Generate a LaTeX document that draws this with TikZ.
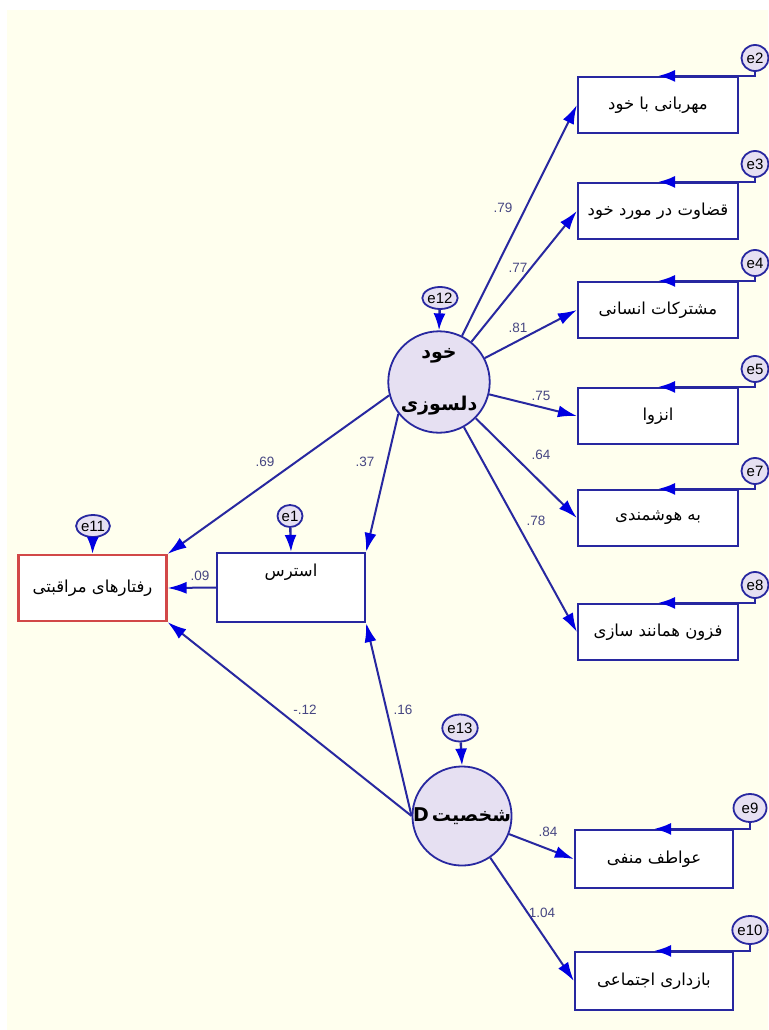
\documentclass[tikz,border=0pt]{standalone}
\usepackage{fontspec}
\setmainfont{Liberation Sans}
\newfontfamily\arabicfont[Script=Arabic]{DejaVu Sans}
\TeXXeTstate=1
\usetikzlibrary{arrows.meta,shapes.geometric}

\definecolor{paper}{RGB}{255,255,238}
\definecolor{linkblue}{RGB}{40,40,160}
\definecolor{tipblue}{RGB}{0,0,225}
\definecolor{bubble}{RGB}{230,224,242}
\definecolor{coefgray}{RGB}{70,70,130}
\definecolor{carered}{RGB}{210,72,72}

\begin{document}
\begin{tikzpicture}[x=1pt,y=-1pt,
    obsbox/.style={draw=linkblue,line width=2.2pt,fill=white,minimum width=160pt,minimum height=56pt,
      font=\arabicfont\fontsize{16.5}{18}\selectfont},
    latent/.style={circle,draw=linkblue,line width=1.8pt,fill=bubble,minimum size=98pt,inner sep=0pt,
      font=\arabicfont\bfseries\fontsize{19}{52}\selectfont},
    errnode/.style={ellipse,draw=linkblue,line width=1.8pt,fill=bubble,minimum width=27pt,minimum height=26pt,
      inner sep=0pt,font=\fontsize{15}{15}\selectfont},
    link/.style={draw=linkblue,line width=2pt,-{Latex[length=19pt,width=12pt,color=tipblue]}},
    errlink/.style={draw=linkblue,line width=2.4pt,-{Latex[length=17pt,width=12pt,color=tipblue]}},
    coef/.style={text=coefgray,font=\fontsize{13.5}{13.5}\selectfont}]

    % draw background
    \useasboundingbox (0,0) rectangle (768,1030);
    \fill[white] (0,0) rectangle (768,1030);
    \fill[paper] (7,10) rectangle (768,1030);

    % draw latent variables
    \node[latent,align=center] (selfc) at (439,382) {\beginR خود\endR\\\beginR دلسوزی\endR};
    \node[latent] (typed) at (462,816) {\beginR شخصیت\,D\endR};
    \node[errnode,minimum width=30pt,minimum height=22pt] (e12) at (440,298) {e12};
    \node[errnode,minimum width=33pt,minimum height=27pt] (e13) at (460,728) {e13};
    \draw[errlink] (e12) -- (selfc.north);
    \draw[errlink] (e13) -- (typed.north);

    % draw stress and caring behaviour
    \node[obsbox,minimum width=148pt,minimum height=69pt,text depth=34pt] (stress) at (291,587.5) {\beginR استرس\endR};
    \node[obsbox,draw=carered,minimum width=148pt,minimum height=66pt] (care) at (92.5,588) {\beginR رفتارهای مراقبتی\endR};
    \node[errnode,minimum width=25pt,minimum height=22pt] (e1) at (290,516) {e1};
    \node[errnode,minimum width=33pt,minimum height=22pt] (e11) at (93,526) {e11};
    \draw[errlink] (e1) -- (stress.north);
    \draw[errlink] (e11) -- (care.north);

    % draw structural paths
    \draw[link] (selfc.195) -- (care.north east);
    \draw[link] (selfc.218) -- (stress.north east);
    \draw[link] (stress.west) -- (care.east);
    \draw[link] (typed.west) -- (care.south east);
    \draw[link] (typed.west) -- (stress.south east);
    \node[coef] at (265,462) {.69};
    \node[coef] at (365,462) {.37};
    \node[coef] at (200,576) {.09};
    \node[coef] at (305,710) {-.12};
    \node[coef] at (403,710) {.16};

    % draw indicators of self-compassion
    \foreach \err/\y/\txt/\val/\lx/\ly in {
        e2/105/{مهربانی با خود}/.79/503/208,
        e3/211/{قضاوت در مورد خود}/.77/518/268,
        e4/310/{مشترکات انسانی}/.81/518/328,
        e5/416/{انزوا}/.75/541/396,
        e7/518/{به هوشمندی}/.64/541/455,
        e8/632/{فزون همانند سازی}/.78/536/521} {
      \node[obsbox] (\err box) at (658,\y) {\beginR\txt\endR};
      \node[errnode] (\err) at (755,\y-47) {\err};
      \draw[link] (selfc) -- (\err box.west);
      \draw[errlink] (\err.south) |- (\err box.north);
      \node[coef] at (\lx,\ly) {\val};
    }

    % draw indicators of type D
    \foreach \err/\y/\txt/\val/\lx/\ly in {
        e9/859/{عواطف منفی}/.84/548/832,
        e10/981/{بازداری اجتماعی}/1.04/542/913} {
      \node[obsbox,minimum width=158pt,minimum height=58pt] (\err box) at (654,\y) {\beginR\txt\endR};
      \node[errnode,minimum width=33pt,minimum height=28pt] (\err) at (750,\y-51) {\err};
      \draw[link] (typed) -- (\err box.west);
      \draw[errlink] (\err.south) |- (\err box.north);
      \node[coef] at (\lx,\ly) {\val};
    }
\end{tikzpicture}
\end{document}
